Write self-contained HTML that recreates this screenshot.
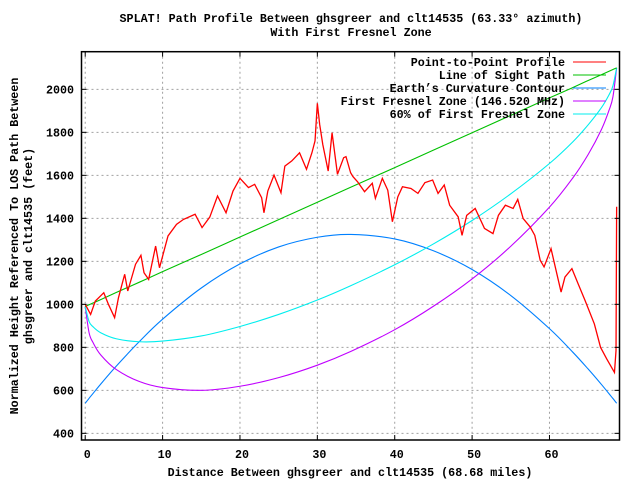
<!DOCTYPE html>
<html><head><meta charset="utf-8"><style>
body{margin:0;background:#fff}
svg{display:block}
text{font-family:"Liberation Mono",monospace;font-weight:bold;font-size:11.7px;fill:#000}
</style></head><body>
<svg id="chart" width="640" height="480" viewBox="0 0 640 480">
<text x="351" y="22" text-anchor="middle">SPLAT! Path Profile Between ghsgreer and clt14535 (63.33° azimuth)</text>
<text x="351" y="36" text-anchor="middle">With First Fresnel Zone</text>
<text x="350" y="476" text-anchor="middle">Distance Between ghsgreer and clt14535 (68.68 miles)</text>
<g transform="translate(18,246) rotate(-90)">
<text x="0" y="0" text-anchor="middle">Normalized Height Referenced To LOS Path Between</text>
<text x="0" y="14" text-anchor="middle">ghsgreer and clt14535 (feet)</text>
</g>
<g id="grid"></g><g id="series"></g><g id="axes"></g><g id="legend"></g>
</svg>
<script>
const xTicks=[0,10,20,30,40,50,60];
const yTicks=[400,600,800,1000,1200,1400,1600,1800,2000];
const curveX=[0,0.5,1,2,4,7,10,15,20,25,30,34.34,40,45,50,55,60,63,65,66.7,67.7,68.2,68.68];
const losY=[990,998,1006,1022,1055,1103,1152,1232,1313,1394,1475,1545,1636,1717,1798,1879,1960,2008,2041,2068,2084,2092,2100];
const earthY=[540,563,585,629,712,827,931,1076,1188,1267,1312,1325,1304,1249,1162,1041,887,778,699,628,584,562,540];
const fresnelY=[990,868,823,765,697,641,613,600,619,659,717,781,882,991,1118,1270,1452,1587,1697,1812,1903,1965,2100];
const fresnel60Y=[990,920,896,868,840,826,829,853,897,953,1020,1087,1184,1281,1390,1514,1655,1755,1835,1914,1975,2016,2100];
const terrainX=[0,0.7,1.3,2.4,3.0,3.8,4.3,5.1,5.5,6.5,7.2,7.6,8.2,9.1,9.6,10.7,11.8,12.7,14.2,15.1,16.1,17.1,18.2,19.1,20.0,21.1,21.9,22.8,23.1,23.6,24.4,25.3,25.8,26.7,27.7,28.6,29.3,29.7,30.0,30.3,30.7,31.4,31.9,32.6,33.4,33.7,34.3,34.6,35.2,36.1,37.1,37.5,38.4,39.1,39.7,40.4,41.0,42.1,43.0,43.9,44.9,45.6,46.4,47.1,48.2,48.7,49.3,50.4,51.6,52.7,53.4,54.3,55.3,55.9,56.6,57.5,58.1,58.8,59.3,60.2,61.5,62.0,62.9,63.7,64.6,65.8,66.6,67.4,68.4,68.6,68.68];
const terrainY=[1000,953,1015,1054,1000,938,1031,1140,1062,1186,1228,1147,1116,1271,1170,1318,1372,1395,1419,1357,1406,1504,1426,1527,1586,1543,1558,1496,1426,1527,1601,1519,1643,1667,1705,1628,1705,1760,1935,1837,1744,1620,1798,1605,1682,1687,1612,1594,1570,1524,1563,1493,1586,1531,1384,1500,1547,1539,1516,1566,1578,1516,1555,1461,1407,1321,1414,1446,1353,1329,1414,1461,1446,1488,1399,1360,1321,1205,1174,1259,1057,1127,1166,1096,1018,909,800,746,683,785,1454];
const legendLabels=["Point-to-Point Profile","Line of Sight Path","Earth\u2019s Curvature Contour","First Fresnel Zone (146.520 MHz)","60% of First Fresnel Zone"];
const colors=["#ff0000","#00c000","#0080ff","#c000ff","#00eeee"];

const L=81.5,R=619.5,T=51.7,B=440;
const xMin=-0.48,xMax=69.05,yMin=369,yMax=2175;
const sx=v=>L+(v-xMin)/(xMax-xMin)*(R-L);
const sy=v=>B-(v-yMin)/(yMax-yMin)*(B-T);
const NS="http://www.w3.org/2000/svg";
function mk(tag,attrs,parent){const e=document.createElementNS(NS,tag);for(const k in attrs)e.setAttribute(k,attrs[k]);parent.appendChild(e);return e;}
const grid=document.getElementById('grid'),axes=document.getElementById('axes'),series=document.getElementById('series'),legend=document.getElementById('legend');
xTicks.forEach(t=>{const x=sx(t);
 const g=mk('line',{x1:x,x2:x,y1:T,y2:B,stroke:'#a0a0a0','stroke-dasharray':'2,3'},grid);
 
 
 mk('line',{x1:x,x2:x,y1:B,y2:B-5,stroke:'#000'},axes);
 mk('line',{x1:x,x2:x,y1:T,y2:T+5,stroke:'#000'},axes);
 const tx=mk('text',{x:x+2,y:B+18,'text-anchor':'middle'},axes);tx.textContent=t;
 
 
});
yTicks.forEach(t=>{const y=sy(t);
 const g=mk('line',{x1:L,x2:R,y1:y,y2:y,stroke:'#a0a0a0','stroke-dasharray':'2,3'},grid);
 
 
 mk('line',{x1:L,x2:L+5,y1:y,y2:y,stroke:'#000'},axes);
 mk('line',{x1:R,x2:R-5,y1:y,y2:y,stroke:'#000'},axes);
 const tx=mk('text',{x:74,y:y+4,'text-anchor':'end'},axes);tx.textContent=t;
 
 
});
const fr=mk('rect',{x:L,y:T,width:R-L,height:B-T,fill:'none',stroke:'#000','stroke-width':1.5},axes);


function smoothPath(xs,ys){const p=xs.map((x,i)=>[sx(x),sy(ys[i])]);let d='M'+p[0][0]+','+p[0][1];
 for(let i=0;i<p.length-1;i++){const p0=p[i-1]||p[i],p1=p[i],p2=p[i+1],p3=p[i+2]||p2;
  d+=' C'+(p1[0]+(p2[0]-p0[0])/6)+','+(p1[1]+(p2[1]-p0[1])/6)+' '+(p2[0]-(p3[0]-p1[0])/6)+','+(p2[1]-(p3[1]-p1[1])/6)+' '+p2[0]+','+p2[1];}
 return d;}
const sList=[[curveX,earthY,2,'earth-curvature-line'],[curveX,fresnelY,3,'fresnel-zone-line'],[curveX,fresnel60Y,4,'fresnel-60-line'],[curveX,losY,1,'line-of-sight']];
sList.forEach(s=>{const e=mk('path',{d:smoothPath(s[0],s[1]),fill:'none',stroke:colors[s[2]],'stroke-width':1.1},series);
 
 });
const tp=mk('polyline',{points:terrainX.map((x,i)=>sx(x)+','+sy(terrainY[i])).join(' '),fill:'none',stroke:colors[0],'stroke-width':1.3},series);


legendLabels.forEach((lab,i)=>{const y=62+i*13;
 const t=mk('text',{x:565,y:y+4,'text-anchor':'end'},legend);t.textContent=lab;
 
 
 mk('line',{x1:573,x2:606,y1:y,y2:y,stroke:colors[i],'stroke-width':1.1},legend);
});
</script>
</body></html>
